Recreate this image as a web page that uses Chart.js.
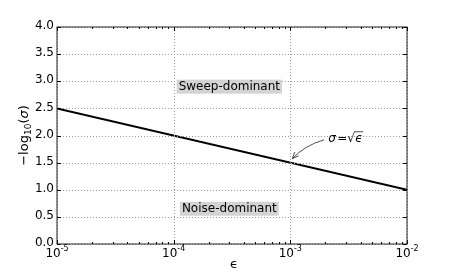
<!DOCTYPE html>
<html lang="en">
<head>
  <meta charset="UTF-8" />
  <title>Sweep vs noise dominant</title>
  <script src="https://cdn.jsdelivr.net/npm/chart.js"></script>
  <style>
    html, body { margin: 0; padding: 0; background: #fff; }
    #wrap { width: 452px; height: 272px; }
  </style>
</head>
<body>
  <div id="wrap"><canvas id="chart" width="452" height="272"></canvas></div>
  <script>
    // data
    const epsilons = [1e-5, 1e-2];
    const negLogSigma = [2.5, 1.0];
    const xDecades = [-5, -4, -3, -2];
    const yTicks = [0, 0.5, 1, 1.5, 2, 2.5, 3, 3.5, 4];
    const regionLabels = ['Sweep-dominant', 'Noise-dominant'];
    const regionX = [3e-4, 3e-4];
    const regionY = [2.9, 0.65];
    const arrowPoint = [1e-3, 1.5];
    const arrowText = [2.95e-3, 1.94];

    const FONT = '"DejaVu Sans", sans-serif';

    const axesPlugin = {
      id: 'axesPlugin',
      afterDraw(chart) {
        const ctx = chart.ctx;
        const a = chart.chartArea;
        const xs = chart.scales.x, ys = chart.scales.y;
        ctx.save();

        // dotted grid
        ctx.strokeStyle = '#999';
        ctx.lineWidth = 1;
        ctx.setLineDash([1, 2]);
        xDecades.forEach(d => {
          const px = Math.round(xs.getPixelForValue(Math.pow(10, d))) + 0.5;
          ctx.beginPath(); ctx.moveTo(px, a.top); ctx.lineTo(px, a.bottom); ctx.stroke();
        });
        yTicks.forEach(v => {
          const py = Math.round(ys.getPixelForValue(v)) + 0.5;
          ctx.beginPath(); ctx.moveTo(a.left, py); ctx.lineTo(a.right, py); ctx.stroke();
        });
        ctx.setLineDash([]);

        // ticks (inward)
        ctx.strokeStyle = '#000';
        for (let d = -5; d <= -2; d++) {
          for (let m = 1; m <= 9; m++) {
            const v = m * Math.pow(10, d);
            if (v > 1e-2 * 1.0001) break;
            const px = Math.round(xs.getPixelForValue(v)) + 0.5;
            const len = m === 1 ? 4 : 2;
            ctx.beginPath();
            ctx.moveTo(px, a.bottom); ctx.lineTo(px, a.bottom - len);
            ctx.moveTo(px, a.top); ctx.lineTo(px, a.top + len);
            ctx.stroke();
          }
        }
        yTicks.forEach(v => {
          const py = Math.round(ys.getPixelForValue(v)) + 0.5;
          ctx.beginPath();
          ctx.moveTo(a.left, py); ctx.lineTo(a.left + 4, py);
          ctx.moveTo(a.right, py); ctx.lineTo(a.right - 4, py);
          ctx.stroke();
        });

        // frame (soft, like the antialiased original)
        ctx.strokeStyle = '#222';
        ctx.lineWidth = 1;
        ctx.strokeRect(Math.round(a.left), Math.round(a.top),
          Math.round(a.right - a.left), Math.round(a.bottom - a.top));

        // y tick labels
        ctx.fillStyle = '#000';
        ctx.font = '12px ' + FONT;
        ctx.textAlign = 'right';
        ctx.textBaseline = 'middle';
        yTicks.forEach(v => {
          ctx.fillText(v.toFixed(1), a.left - 3, ys.getPixelForValue(v) - 1);
        });

        // x tick labels 10^d
        ctx.textBaseline = 'alphabetic';
        ctx.textAlign = 'left';
        xDecades.forEach(d => {
          const px = xs.getPixelForValue(Math.pow(10, d));
          ctx.font = '12px ' + FONT;
          const w1 = ctx.measureText('10').width;
          ctx.font = '8px ' + FONT;
          const sup = '-' + Math.abs(d);
          const w2 = ctx.measureText(sup).width;
          const x0 = px - (w1 + w2) / 2;
          ctx.font = '12px ' + FONT;
          ctx.fillText('10', x0, a.bottom + 13);
          ctx.font = '8px ' + FONT;
          ctx.fillText(sup, x0 + w1, a.bottom + 7);
        });

        // axis labels
        ctx.font = '13px ' + FONT;
        ctx.textAlign = 'center';
        ctx.fillText('\u03f5', (a.left + a.right) / 2 + 2, a.bottom + 24);

        ctx.save();
        ctx.translate(28, (a.top + a.bottom) / 2);
        ctx.rotate(-Math.PI / 2);
        ctx.textAlign = 'left';
        ctx.font = '13px ' + FONT;
        const p1 = '\u2212log', p2 = '(', p3 = '\u03c3', p4 = ')';
        const wp1 = ctx.measureText(p1).width;
        const wpa = ctx.measureText(p2).width;
        const wpc = ctx.measureText(p4).width;
        ctx.font = 'italic 13px ' + FONT;
        const wpb = ctx.measureText(p3).width;
        ctx.font = '9px ' + FONT;
        const wp2 = ctx.measureText('10').width;
        let sx = -(wp1 + wp2 + wpa + wpb + wpc) / 2;
        ctx.font = '13px ' + FONT;
        ctx.fillText(p1, sx, 0); sx += wp1;
        ctx.font = '9px ' + FONT;
        ctx.fillText('10', sx, 3); sx += wp2;
        ctx.font = '13px ' + FONT;
        ctx.fillText(p2, sx, 0); sx += wpa;
        ctx.font = 'italic 13px ' + FONT;
        ctx.fillText(p3, sx, 0); sx += wpb;
        ctx.font = '13px ' + FONT;
        ctx.fillText(p4, sx, 0);
        ctx.restore();

        // region labels with grey boxes
        ctx.font = '12px ' + FONT;
        ctx.textAlign = 'center';
        ctx.textBaseline = 'middle';
        regionLabels.forEach((t, i) => {
          const px = xs.getPixelForValue(regionX[i]);
          const py = ys.getPixelForValue(regionY[i]);
          const w = ctx.measureText(t).width;
          ctx.fillStyle = '#d3d3d3';
          ctx.fillRect(px - w / 2 - 2, py - 7, w + 4, 14);
          ctx.fillStyle = '#000';
          ctx.fillText(t, px, py);
        });

        // annotation sigma = sqrt(eps)
        const tx = xs.getPixelForValue(arrowText[0]);
        const ty = ys.getPixelForValue(arrowText[1]);
        const ax = xs.getPixelForValue(arrowPoint[0]);
        const ay = ys.getPixelForValue(arrowPoint[1]);
        ctx.font = 'italic 12px ' + FONT;
        ctx.textAlign = 'left';
        const lx = tx - 17;
        ctx.fillText('\u03c3', lx, ty);
        ctx.font = '12px ' + FONT;
        ctx.fillText('=', lx + 9, ty);
        ctx.fillText('\u221a', lx + 19, ty);
        ctx.font = 'italic 12px ' + FONT;
        ctx.fillText('\u03f5', lx + 27, ty);
        ctx.lineWidth = 0.8;
        ctx.beginPath(); ctx.moveTo(lx + 26, ty - 7); ctx.lineTo(lx + 35, ty - 7); ctx.stroke();

        // gently curved arrow from the text to the point
        const sx0 = lx - 4, sy0 = ty + 1;
        const ex = ax + 2, ey = ay - 4;
        const cx = ax + 14, cy = ay - 17;
        ctx.lineWidth = 0.8;
        ctx.beginPath();
        ctx.moveTo(sx0, sy0);
        ctx.quadraticCurveTo(cx, cy, ex, ey);
        ctx.stroke();
        const ang = Math.atan2(ey - cy, ex - cx);
        ctx.beginPath();
        ctx.moveTo(ex, ey);
        ctx.lineTo(ex - 7 * Math.cos(ang - 0.4), ey - 7 * Math.sin(ang - 0.4));
        ctx.moveTo(ex, ey);
        ctx.lineTo(ex - 7 * Math.cos(ang + 0.4), ey - 7 * Math.sin(ang + 0.4));
        ctx.stroke();

        ctx.restore();
      }
    };

    new Chart(document.getElementById('chart'), {
      type: 'line',
      data: {
        datasets: [{
          data: epsilons.map((e, i) => ({ x: e, y: negLogSigma[i] })),
          borderColor: '#000',
          borderWidth: 2,
          pointRadius: 0,
          fill: false
        }]
      },
      options: {
        responsive: false,
        animation: false,
        layout: { padding: { left: 57, right: 45, top: 27, bottom: 28 } },
        plugins: { legend: { display: false }, tooltip: { enabled: false } },
        scales: {
          x: { type: 'logarithmic', min: 1e-5, max: 1e-2, display: false },
          y: { type: 'linear', min: 0, max: 4, display: false }
        }
      },
      plugins: [axesPlugin]
    });
  </script>
</body>
</html>
